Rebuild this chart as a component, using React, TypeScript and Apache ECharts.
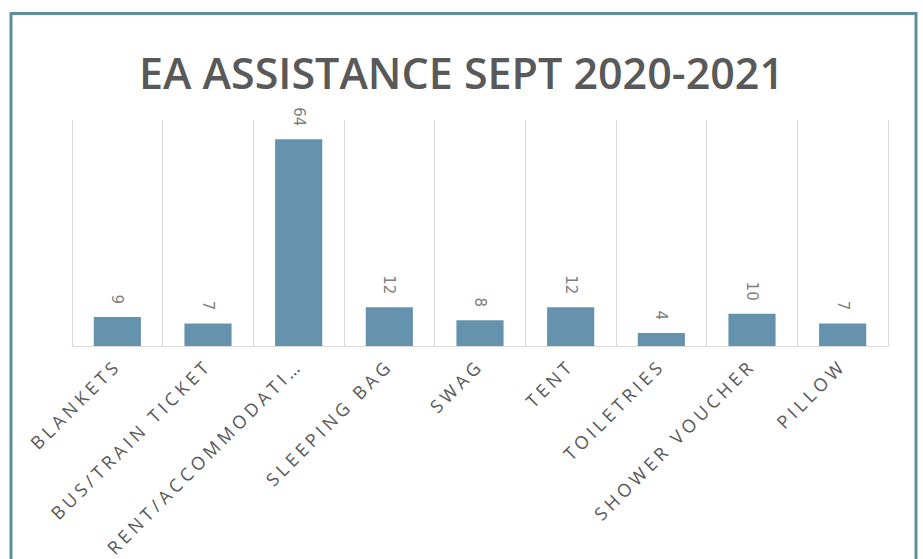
import React, { useEffect, useRef } from "react";
import * as echarts from "echarts";

const titleText = "EA ASSISTANCE SEPT 2020-2021";
const categories = [
  "BLANKETS",
  "BUS/TRAIN TICKET",
  "RENT/ACCOMMODATI…",
  "SLEEPING BAG",
  "SWAG",
  "TENT",
  "TOILETRIES",
  "SHOWER VOUCHER",
  "PILLOW",
];
const values = [9, 7, 64, 12, 8, 12, 4, 10, 7];

export default function App() {
  const ref = useRef<HTMLDivElement>(null);
  useEffect(() => {
    if (!ref.current) return;
    const chart = echarts.init(ref.current, undefined, { renderer: "svg" });
    chart.setOption({
      animation: false,
      backgroundColor: "#ffffff",
      title: {
        text: titleText,
        left: "center",
        top: 46,
        textStyle: {
          fontFamily: "Open Sans",
          fontWeight: 600,
          fontSize: 43,
          color: "#595959",
        },
      },
      graphic: [
        {
          type: "rect",
          shape: { x: 11, y: 13.5, width: 905, height: 620 },
          style: { fill: "none", stroke: "#5f8d99", lineWidth: 3 },
          silent: true,
        },
      ],
      grid: { left: 72, right: 35, top: 120, bottom: 213 },
      xAxis: {
        type: "category",
        data: categories,
        axisLine: { lineStyle: { color: "#d9d9d9", width: 1 } },
        axisTick: { show: false },
        splitLine: { show: true, lineStyle: { color: "#d9d9d9", width: 1 } },
        axisLabel: {
          rotate: 45,
          interval: 0,
          margin: 16,
          fontFamily: "Open Sans",
          fontSize: 18,
          color: "#595959",
        },
      },
      yAxis: {
        type: "value",
        min: 0,
        max: 70,
        show: false,
        splitLine: { show: false },
      },
      series: [
        {
          type: "bar",
          data: values,
          barWidth: "52%",
          itemStyle: { color: "#6593ad" },
          label: {
            show: true,
            position: "top",
            rotate: -90,
            align: "right",
            verticalAlign: "middle",
            distance: 13,
            fontFamily: "DejaVu Sans",
            fontSize: 15,
            color: "#7f7f7f",
          },
        },
      ],
    });
    const texts = ref.current.querySelectorAll("text");
    texts.forEach((t) => {
      if (categories.includes(t.textContent || "")) {
        t.setAttribute("letter-spacing", "4");
      }
    });
    return () => chart.dispose();
  }, []);
  return (
    <div
      ref={ref}
      style={{ position: "absolute", left: 0, top: 0, width: 923, height: 559 }}
    />
  );
}
